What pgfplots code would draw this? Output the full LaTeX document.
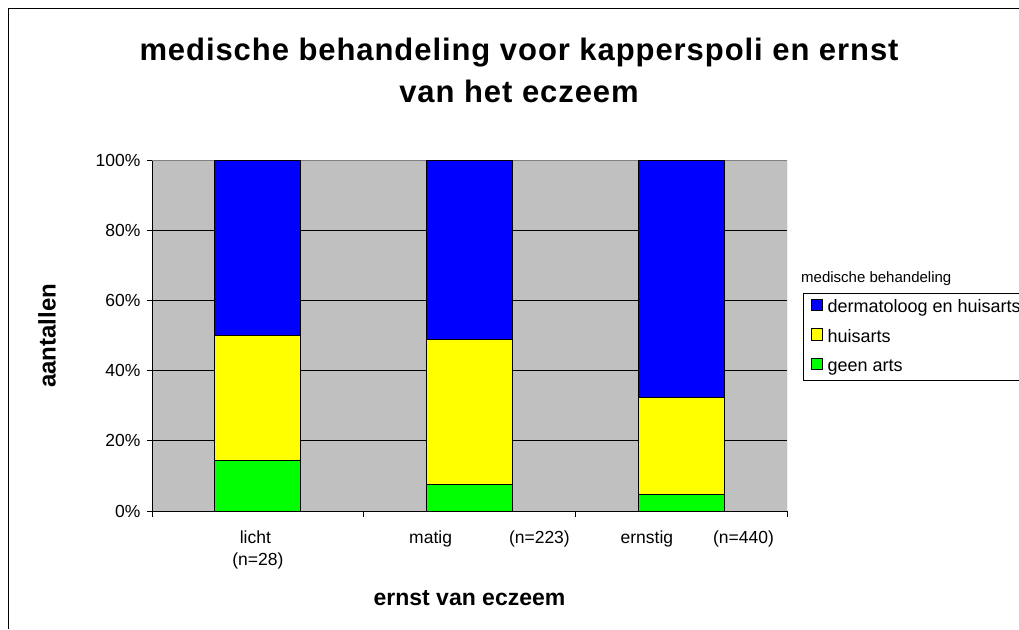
\documentclass[border=0pt]{standalone}
\usepackage{fontspec}
\setmainfont{Liberation Sans}
\newfontfamily\titlefont[LetterSpace=3]{Liberation Sans}
\usepackage{pgfplots}
\pgfplotsset{compat=1.18}
\definecolor{plotgray}{HTML}{C0C0C0}
\definecolor{bordergray}{HTML}{808080}
\definecolor{xlblue}{HTML}{0000FF}
\definecolor{xlyellow}{HTML}{FFFF00}
\definecolor{xlgreen}{HTML}{00FF00}
\pgfplotsset{
  xlswatch/.style={legend image code/.code={\draw[##1,draw=black,line width=1pt] (0pt,-2.5pt) rectangle (11.5pt,9pt);}},
}
\begin{document}
\begin{tikzpicture}
\useasboundingbox (0pt,0pt) rectangle (1019pt,629pt);
% chart frame (only top and left visible)
\draw[line width=1.5pt] (8.5pt,0pt) -- (8.5pt,620.5pt) -- (1019pt,620.5pt);
\node[anchor=base,font=\titlefont\fontsize{31}{36}\selectfont\bfseries] at (519pt,568pt) {medische behandeling voor kapperspoli en ernst};
\node[anchor=base,font=\titlefont\fontsize{31}{36}\selectfont\bfseries] at (519pt,526pt) {van het eczeem};
\node[anchor=base west,inner sep=0pt,font=\fontsize{15}{18}\selectfont] at (801pt,346pt) {medische behandeling};
\begin{axis}[
    at={(152pt,118pt)}, anchor=south west,
    scale only axis, width=635pt, height=350.3pt,
    ybar stacked, bar width=86pt,
    xmin=-0.5, xmax=2.5, ymin=0, ymax=100,
    enlargelimits=false,
    axis background/.style={fill=plotgray},
    axis x line*=bottom, axis y line*=left,
    axis line style={black,line width=1pt,-},
    tick align=outside,
    tick style={black,line width=1pt},
    major tick length=5pt, minor tick length=6pt,
    xtick={0,1,2},
    xticklabels={{\strut licht\hspace*{5pt}\\(n=28)},
                 {\strut\makebox[0pt][r]{matig\hspace{17.5pt}}\makebox[0pt][l]{\hspace{39.5pt}(n=223)}},
                 {\strut\makebox[0pt][r]{ernstig\hspace{8pt}}\makebox[0pt][l]{\hspace{32pt}(n=440)}}},
    major x tick style={draw=none},
    minor xtick={-0.5,0.5,1.5,2.5},
    ytick={0,20,40,60,80,100},
    yticklabels={0\%,20\%,40\%,60\%,80\%,100\%},
    ymajorgrids=true,
    major grid style={black,line width=1pt},
    ticklabel style={font=\fontsize{17.5}{22}\selectfont},
    xticklabel style={align=center,anchor=north,yshift=-9pt},
    yticklabel style={xshift=-3pt},
    xlabel={ernst van eczeem},
    xlabel style={font=\fontsize{23}{28}\selectfont\bfseries,at={(axis description cs:0.5,0)},anchor=base,yshift=-94pt},
    ylabel={aantallen},
    ylabel style={font=\fontsize{24}{28}\selectfont\bfseries,at={(axis description cs:-0.1654,0.5)},anchor=center},
    reverse legend,
    legend cell align=left,
    legend style={at={(axis description cs:1.0252,0.6223)},anchor=north west,
      draw=black,line width=1pt,fill=white,
      inner xsep=7pt,inner ysep=5pt,row sep=12pt,
      font=\fontsize{18}{21}\selectfont,
      nodes={inner xsep=4.5pt,inner ysep=0pt,text height=12.5pt,text depth=3.5pt}},
]
\addplot[fill=xlgreen,draw=black,line width=1pt,xlswatch] coordinates {(0,14.3) (1,7.6) (2,4.8)};
\addlegendentry{geen arts}
\addplot[fill=xlyellow,draw=black,line width=1pt,xlswatch] coordinates {(0,35.7) (1,41.3) (2,27.7)};
\addlegendentry{huisarts}
\addplot[fill=xlblue,draw=black,line width=1pt,xlswatch] coordinates {(0,50.0) (1,51.1) (2,67.5)};
\addlegendentry{dermatoloog en huisarts}
\draw[bordergray,line width=1pt] (rel axis cs:0,1) -- (rel axis cs:1,1) -- (rel axis cs:1,0);
\end{axis}
\end{tikzpicture}
\end{document}
